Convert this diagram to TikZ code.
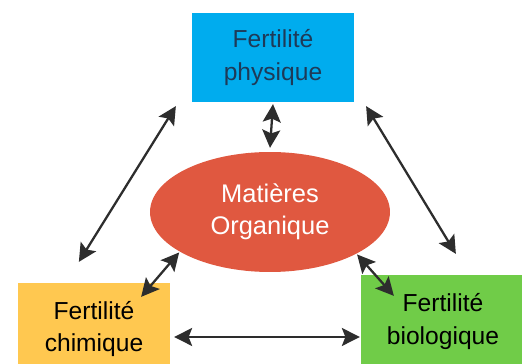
\documentclass[tikz,border=0pt]{standalone}
\usepackage{fontspec}
\setmainfont{Liberation Sans}
\usetikzlibrary{arrows.meta,shapes.geometric,calc}

\definecolor{physblue}{RGB}{0,172,238}
\definecolor{phystext}{RGB}{30,58,88}
\definecolor{mored}{RGB}{224,88,64}
\definecolor{chimyellow}{RGB}{255,200,80}
\definecolor{biogreen}{RGB}{112,204,72}
\definecolor{arrowgray}{RGB}{45,45,45}

\begin{document}
\begin{tikzpicture}[x=0.02cm,y=-0.02cm,>={Stealth[length=0.36cm,width=0.36cm,inset=0.07cm]},
	line width=1.3pt]
	\tikzstyle{box}=[draw=none,align=center,inner sep=0pt,
		font=\fontsize{14}{18.7}\selectfont]
	\tikzstyle{link}=[<->,draw=arrowgray]
	
	\useasboundingbox (0,0) rectangle (522,364);
	\clip (0,0) rectangle (522,364);
	
	\node[box,fill=physblue,text=phystext,minimum width=3.24cm,minimum height=1.78cm] (phys) at (273,57.5) {Fertilité\\physique};
	\node[ellipse,fill=mored,text=white,align=center,minimum width=4.8cm,minimum height=2.4cm,
		font=\fontsize{14.5}{18.2}\selectfont] (mo) at (270,212) {Matières\\Organique};
	\node[box,fill=chimyellow,minimum width=3.04cm,minimum height=1.84cm] (chim) at (94,329) {Fertilité\\chimique};
	\node[box,fill=biogreen,minimum width=3.28cm,minimum height=1.86cm] (bio) at (443,321.5) {Fertilité\\biologique};
	
	\draw[link] ([yshift=-0.02cm]phys.south) -- ([yshift=0.06cm]mo.north);
	\draw[link] ($(phys.south west)+(-15,3)$) -- ($(chim.north west)+(62,-20)$);
	\draw[link] ($(phys.south east)+(11,3)$) -- ($(bio.north west)+(96,-20)$);
	\draw[link] (mo.204) -- ($(chim.north east)+(-30,15)$);
	\draw[link] (mo.334) -- ($(bio.north west)+(34,22)$);
	\draw[link,shorten <=0.06cm] ([yshift=-0.16cm]chim.east) -- ([yshift=-0.16cm]chim.east -| bio.west);
	
\end{tikzpicture}
\end{document}
